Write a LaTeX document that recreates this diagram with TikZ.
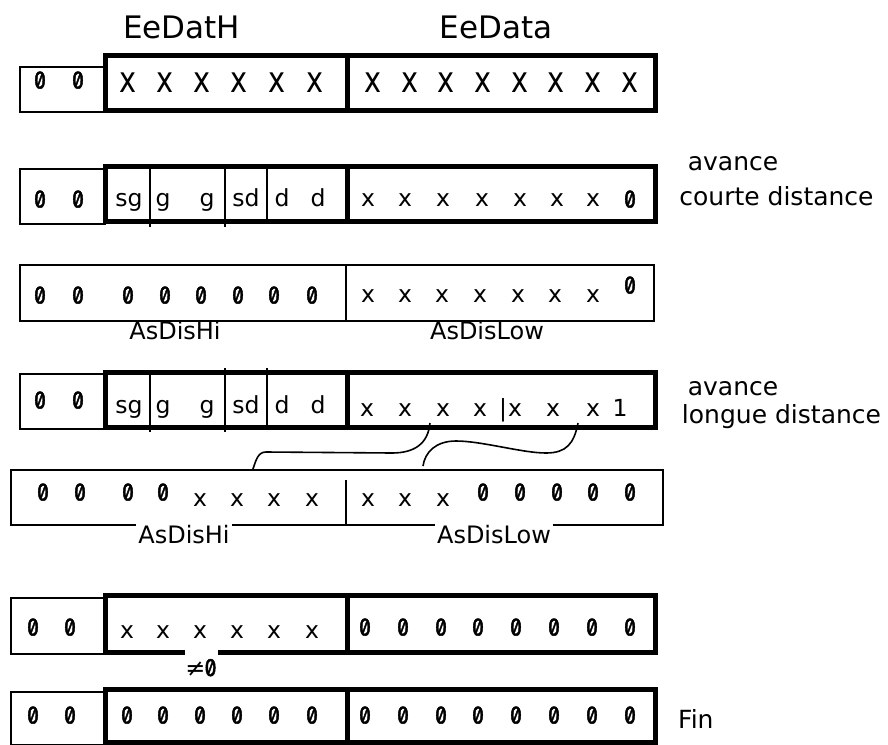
\documentclass[tikz,border=0pt]{standalone}
\usepackage{fontspec}
\setmainfont{DejaVu Sans}
\newfontfamily\zerofont[Numbers=SlashedZero,FakeBold=1.8]{Fira Sans}
\newfontfamily\widex[FakeStretch=0.8]{DejaVu Sans}
% slashed zero sized to the cell digits
\newcommand\zd{\resizebox{12pt}{17pt}{\zerofont\fontsize{20}{22}\selectfont 0}}
\begin{document}
\begin{tikzpicture}[x=1pt,y=-1pt,
  fine/.style={line width=2pt},
  heavy/.style={line width=5pt},
  link/.style={line width=1.6pt},
  ch/.style={inner sep=0pt,anchor=base,font=\fontsize{23.5}{25}\selectfont},
  zr/.style={inner sep=0pt,anchor=base},
  bigx/.style={inner sep=0pt,anchor=base,font=\widex\fontsize{36}{38}\selectfont},
  head/.style={inner sep=0pt,anchor=base,font=\fontsize{31}{33}\selectfont},
  note/.style={inner sep=0pt,anchor=base,font=\fontsize{25}{27}\selectfont},
  field/.style={inner sep=0pt,anchor=base,font=\fontsize{24}{26}\selectfont},
  fieldcut/.style={field,fill=white,inner xsep=2pt,inner ysep=3pt}]
\useasboundingbox (0,0) rectangle (888,744);

% ---- register names
\node[head] (hH) at (181.5,38) {EeDatH};
\node[head] (hL) at (496,38) {EeData};

% ---- row 1 : raw register
\draw[fine] (20,67) rectangle (105,112);
\draw[heavy] (105,55.5) rectangle (655,110.5);
\draw[heavy] (347,55.5) -- (347,110.5);
\foreach \x [count=\i] in {40,78} \node[zr] (a0\i) at (\x,88.5) {\zd};
\foreach \x [count=\i] in {128,165,202,239,277,315} \node[bigx] (a1\i) at (\x,92) {x};
\foreach \x [count=\i] in {373,409.7,446.4,483.1,519.8,556.5,593.2,630} \node[bigx] (a2\i) at (\x,92) {x};

% ---- row 2 : short move
\draw[fine] (20,169) rectangle (105,224);
\draw[heavy] (105,166.5) rectangle (655,221.5);
\draw[heavy] (347,166.5) -- (347,221.5);
\draw[fine] (150,166.5) -- (150,227) (225,166.5) -- (225,227) (267,166.5) -- (267,221.5);
\foreach \x [count=\i] in {40,78} \node[zr] (b0\i) at (\x,207.5) {\zd};
\foreach \t/\x [count=\i] in {sg/129,g/163,g/207,sd/246,d/282,d/318} \node[ch] (b1\i) at (\x,206) {\t};
\foreach \x [count=\i] in {368,405,443,482,520,557,593} \node[ch] (b2\i) at (\x,206) {x};
\node[zr] (b3) at (630,207.5) {\zd};
\node[note] (n1a) at (733,170) {avance};
\node[note] (n1b) at (776.5,205) {courte distance};

% ---- row 3 : short distance
\draw[fine] (20,265) rectangle (654,321);
\draw[fine] (346,265) -- (346,321);
\foreach \x [count=\i] in {40,78,128,165,201,238,274,312} \node[zr] (c0\i) at (\x,303.5) {\zd};
\foreach \x [count=\i] in {368,405,442,480,518,555,593} \node[ch] (c2\i) at (\x,302) {x};
\node[zr] (c3) at (630,293.5) {\zd};
\node[field] (cHi) at (175,339) {AsDisHi};
\node[field] (cLo) at (487,339) {AsDisLow};

% ---- row 4 : long move
\draw[fine] (20,374) rectangle (105,429);
\draw[heavy] (105,372) rectangle (655,427.5);
\draw[heavy] (347,372) -- (347,427.5);
\draw[fine] (150,372) -- (150,432) (225,368) -- (225,432) (267,368) -- (267,427.5);
\foreach \x [count=\i] in {40,78} \node[zr] (d0\i) at (\x,408.5) {\zd};
\foreach \t/\x [count=\i] in {sg/129,g/163,g/207,sd/246,d/282,d/318} \node[ch] (d1\i) at (\x,413) {\t};
\foreach \x [count=\i] in {367,405,443,480,515,553,593} \node[ch] (d2\i) at (\x,416) {x};
\node[ch] (dbar) at (503,416) {|};
\node[ch] (d3) at (620,416) {1};
\node[note] (n2a) at (733,395) {avance};
\node[note] (n2b) at (781.5,423) {longue distance};

% ---- row 5 : long distance
\draw[fine] (11,470) rectangle (663,525);
\draw[fine] (346,480) -- (346,525);
\foreach \x [count=\i] in {43,80,128,163} \node[zr] (e0\i) at (\x,500.5) {\zd};
\foreach \x [count=\i] in {200,237,274,312,368,405,443} \node[ch] (e1\i) at (\x,506) {x};
\foreach \x [count=\i] in {483,520,557,593,630} \node[zr] (e2\i) at (\x,500.5) {\zd};
\node[fieldcut] (eHi) at (184,543) {AsDisHi};
\node[fieldcut] (eLo) at (494,543) {AsDisLow};

% ---- bit transfers from row 4 to row 5
\coordinate (s1) at (430,423);
\coordinate (t1) at (253,469);
\coordinate (s2) at (578,423);
\coordinate (t2) at (423,466);
\draw[link] (s1) .. controls (428,444) and (414,453) .. (392,453) -- (266,452) .. controls (258,452) and (256,460) .. (t1);
\draw[link] (s2) .. controls (574,444) and (566,453) .. (546,453) .. controls (522,453) and (482,441) .. (456,441) .. controls (436,441) and (425,452) .. (t2);

% ---- row 6 : non-zero high part
\draw[fine] (11,598) rectangle (105,654);
\draw[heavy] (185,652) -- (105,652) -- (105,595) -- (655,595) -- (655,652) -- (218,652);
\draw[heavy] (347,595) -- (347,652);
\foreach \x [count=\i] in {33,70} \node[zr] (f0\i) at (\x,635.5) {\zd};
\foreach \x [count=\i] in {127,163,200,237,274,312} \node[ch] (f1\i) at (\x,638) {x};
\foreach \x [count=\i] in {365,403,441,478,516,554,592,630} \node[zr] (f2\i) at (\x,635.5) {\zd};
\node[inner sep=0pt,anchor=base,font=\fontsize{24}{26}\selectfont] (fne) at (201,676) {≠\kern-1pt\zd};

% ---- row 7 : end
\draw[fine] (11,692) rectangle (105,745);
\draw[heavy] (105,689.5) rectangle (655,742);
\draw[heavy] (347,689.5) -- (347,742);
\foreach \x [count=\i] in {33,70,127,163,200,237,274,312,365,403,441,478,516,554,592,630} \node[zr] (g0\i) at (\x,723.5) {\zd};
\node[note,anchor=base west] (fin) at (678,728) {Fin};
\end{tikzpicture}
\end{document}
